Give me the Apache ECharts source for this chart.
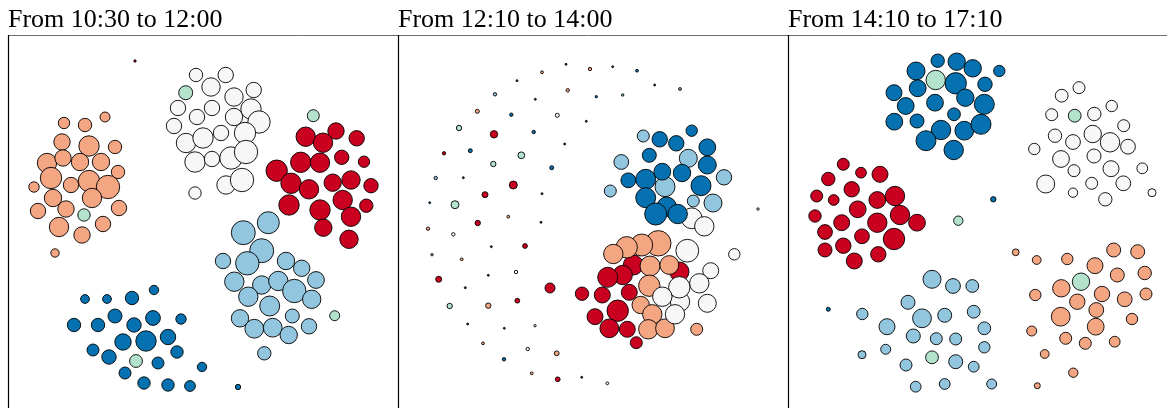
<!DOCTYPE html>
<html>
<head>
<meta charset="utf-8">
<script src="https://cdn.jsdelivr.net/npm/echarts@6/dist/echarts.min.js"></script>
<style>html,body{margin:0;padding:0;background:#fff;}#c{width:1167px;height:408px;}</style>
</head>
<body>
<div id="c"></div>
<script>
// Panel titles
const titles = ['From 10:30 to 12:00', 'From 12:10 to 14:00', 'From 14:10 to 17:10'];
// Each point: [x, y, radius] (panel pixel space)
const p1Red = [[135,61,1.5],[305.7,136.7,10],[336,131,8.5],[356.7,138.3,8],[323,142.7,10],[341.7,157.3,7.5],[364,161.7,6],[300.7,162.3,10.5],[320,162.7,10],[276.7,170.7,11],[291,183.3,10.5],[309,189.3,10],[332.7,182.7,9],[351,180,9.5],[371,185.7,7.5],[289,205,10.5],[320,210,10.5],[342.7,200,10],[366.3,205.7,7],[351,216.7,10],[323.3,227.7,9],[349,239.3,9.5]];
const p1Salmon = [[105,117,5.3],[64,123,6],[85,125,7],[62,142,8.5],[89,146,10.5],[115,147,7],[47,163,10],[63,158,8.5],[80,162,9],[101,162,9],[118,172,7],[51,178,11],[71,185,8],[89,181,11],[108,187,12],[34,187,5.5],[53,198,9],[92,198,10],[119,208,8],[38,211,8],[66,209,8.5],[59,227,10],[82,235,8.5],[103,224,8],[55,253,4.5]];
const p1White = [[196,75,7],[225.7,75,8],[211,87,9.5],[234,97,9.5],[253.7,90,8],[178,108,8],[197,117,8],[212,108,8],[234,117,9],[251,109,10.5],[259,122,11.5],[174,126,8],[186,143,10],[203,138,10.5],[221,133,8],[245,133,11],[195,162,10.5],[212,159,8],[231,158,11.5],[246,152,12],[226,185,9.5],[242,180,12],[195,193,6.5]];
const p1LightBlue = [[268.3,222.7,11.3],[243.3,232.7,12.3],[261.7,250.7,12.3],[223,261,8],[247.3,263.3,12],[286,261,9],[301.7,268.3,8.5],[234.3,281.7,10],[261.7,285,9.5],[278.3,281,10],[294.3,291,12],[316,280,8.7],[248.3,296.7,10],[311.7,299.3,9.5],[269.7,306,10.3],[240,318.3,9],[254.3,328.7,9.7],[272.7,327.7,9.7],[292.3,316,7.3],[288.7,335,9],[309,326.3,8],[264.3,353.3,7]];
const p1Blue = [[85,299,4.7],[107,299,4.7],[132,298,7],[154,290,5],[74,325,7],[98,325,7],[115,316,7.3],[134,325,7.5],[153,318,7.7],[181,319,5.5],[123,342,8.5],[146,341,10.5],[168,337,8],[93,350,6.3],[109,357,7.5],[158,363,6.3],[177,352,6.5],[125,373,6.3],[144,383,6.5],[168,385,6.5],[190,386,5.7],[202,367,5],[238,387,3]];
const p1Mint = [[185.7,92.7,7.3],[84,215,6.5],[313.3,115.7,6.3],[136,361,6.7],[334.7,315.7,5.3]];

const p2Red = [[494,134.3,4],[444,153.3,2],[513.3,185,4.3],[485,194.7,3.3],[477.7,223,3],[525,246,2.7],[438.7,279.3,3.3],[550,288,5.3],[582,293.7,7],[517.3,300.7,2.7],[557.7,379.3,2.7],[633.3,265,10.3],[622.7,275,10],[679.3,271.7,10],[607.7,277.3,10.3],[602.3,295,8.3],[629.3,292.3,8.3],[617.7,310.7,11],[595,316.7,8.3],[609.3,328.3,9.7],[627.3,329.3,8.3],[636.3,342.7,6.3]];
const p2Salmon = [[590,69,2],[542,72.3,1.7],[567.7,90.3,2],[477.3,111.3,2.3],[508.3,216.7,1.7],[428,228.7,2],[461.7,259.3,1.7],[488.3,305.7,3],[483,343.3,1.7],[556.7,353.3,2.7],[531.7,373.3,1.7],[658.3,243.3,13],[641.7,245,11.3],[626.7,247.3,11],[613.3,254,10],[650,266,10.3],[669.3,265,9.7],[649.3,285.7,11],[640.7,305,9],[652.3,314.3,10],[648.3,329.3,10],[665,328.3,9.7],[696.7,329.3,6.3]];
const p2White = [[557.3,115.3,2.3],[453.3,234.3,2],[516,272,2],[535,325.7,1.5],[527.7,349,2],[607.3,383.3,1.7],[758,209,1.5],[691.7,218.3,10.7],[704.3,226.3,10],[734.3,254.3,6],[687.3,250.7,11.7],[710.7,270.7,8.3],[699.3,283.3,10],[680,301.7,10],[679.3,287.3,11],[662.3,296.7,10],[707.3,303.3,9.3],[675,314.3,10]];
const p2LightBlue = [[495,94.3,2],[435.7,178,2],[432,254.7,1.5],[680,89,1.7],[622.7,95,1.5],[643.3,136,6.3],[688.3,158.3,9.3],[621.3,162,7.7],[724,177.3,8],[665,186.7,10.3],[610.3,191,6.3],[693.3,201,6.3],[713,203,9.3]];
const p2Blue = [[511.3,114.7,2],[533.7,132,2],[470.3,150.7,2.3],[551.7,167.7,2.3],[429.7,202.7,1.3],[504,359.3,2],[637,70.7,1.7],[596.3,96.7,1.5],[659.7,139.3,8],[676.3,143.3,8],[691.7,130.7,6],[707.3,147.3,8.7],[649.3,155.3,7.3],[707.3,165,9.3],[628.3,180.3,7.7],[645.7,179.3,10.3],[662.3,171.7,8.7],[682,173,9],[701,185.7,10.3],[645.7,197.7,10.3],[666.7,206.7,10],[655.7,214,11.3],[677.7,214,10]];
const p2Tiny = [[566,64.3,1.3],[517,80.7,1.3],[535.3,99.3,1.3],[586.3,121.3,1.3],[564.7,144,1.3],[463.3,177.7,1.3],[542,193.7,1.3],[541,222.3,1.3],[491.3,246.7,1.3],[488.3,275.3,1.3],[465.3,287.7,1.3],[467.7,324,1.3],[504.3,328.3,1.3],[581.7,377.3,1.3],[612.7,66.7,1.3],[654.7,85,1.3]];
const p2Mint = [[459,128,3],[521.3,155.3,3.7],[493.3,164,3],[455,204.7,4.3],[449.7,306,3]];

const p3Red = [[843.3,164.3,6.3],[828.3,179,7],[861,172.7,5.7],[880,174.3,8.3],[816.7,196,6.3],[833.7,200,5.7],[851.7,189.3,8],[877.3,200,8.7],[895,196,10],[857.7,209.3,8.7],[815,216,6.5],[900,215,10],[841.7,222.7,8.3],[877.3,222.7,10],[917,222.7,8.7],[825,232,7.7],[862,236.3,7.7],[894,239,11],[825,250,7.3],[843.3,245.7,8],[854.3,261,8.3],[878.3,254.3,8]];
const p3Salmon = [[1015.7,252.3,3.7],[1036.7,260,4.7],[1067.3,259,6],[1113.7,250,7.3],[1137.7,251.7,7.3],[1095,265.7,8.3],[1117.3,275,7.3],[1144.7,273,7],[1061.3,288.3,9],[1035.3,295,6],[1102,294,8],[1077.3,301.7,8],[1124.7,299.3,7.7],[1146,294,6.3],[1096.3,310,7.7],[1060.7,316.7,9.7],[1132,319,6],[1095.7,326.7,8.7],[1031.7,331,5.3],[1065.7,338.3,6.3],[1085.3,343.3,6.3],[1114.7,341.7,5.7],[1044.7,354,4.7],[1073.3,372.7,5],[1037.3,385.7,3.3]];
const p3White = [[1079,87.7,6.3],[1061.7,95.7,6.7],[1111.7,106,6],[1051.7,114.7,6.3],[1094.3,114,7],[1123.7,125.7,6.3],[1055,135.7,7],[1073,142,7.7],[1092.7,134,9],[1110,142.3,10],[1128,146.7,7.7],[1034.3,149,6],[1061,159,8.7],[1094,156,7.3],[1074,170.7,6.3],[1111,168.7,8.3],[1142.3,168.3,5.7],[1045.7,184,9.3],[1091.7,183.3,6.3],[1123.3,183.3,7.7],[1073,192.7,5],[1152,192.7,4.3],[1105.3,199.3,7]];
const p3LightBlue = [[932,279.3,9.3],[953,286,7.7],[972.3,286,6.7],[908,302.3,7.3],[862.3,314,6],[922,318.3,9.7],[944.7,315.3,7.3],[973.7,311.7,6.7],[887,326.7,8.3],[913.3,336,7.3],[936.3,338.7,6.3],[955.7,339,6.3],[984.3,328.3,6.7],[862,354.7,4.3],[885.7,349.3,5.3],[955.7,361.7,7.3],[973.7,366.7,5.7],[906,365,6.3],[984.3,347.3,6],[915.7,386.7,5.7],[944.7,384,5.7],[991.7,384,5.3]];
const p3Blue = [[937.7,60.7,7],[956.7,61.7,9],[916,71,9.3],[972.7,68.3,9],[955.7,83.3,11],[917.7,88.3,8.7],[894,92.7,8.3],[985,84.3,7.5],[965.3,97.7,9],[935,102.7,8.7],[905.7,106,8.7],[984.3,104.3,10.3],[954,114.3,6.7],[894.3,121.7,8.7],[917,121,7.3],[941,130,10],[964.3,130.7,9.7],[981,124.3,10.3],[926,140.7,10.3],[953.7,150,10],[999.3,71,6],[993.3,199.3,3],[828.3,309.3,2.3]];
const p3Mint = [[935.7,80,10],[1074.7,115.7,6.7],[958.3,220.7,5],[932,357.3,6.7],[1081,281.7,9]];

const COL = {red:'#ca0020', salmon:'#f4a582', white:'#f7f7f7', lightBlue:'#92c5de', blue:'#0571b0', mint:'#b3e2cd', tiny:'#444444'};
const panels = [
  {x0:8, w:390, groups:[[p1Red,'red'],[p1Salmon,'salmon'],[p1White,'white'],[p1LightBlue,'lightBlue'],[p1Blue,'blue'],[p1Mint,'mint']]},
  {x0:398, w:390, groups:[[p2Tiny,'tiny'],[p2Red,'red'],[p2Salmon,'salmon'],[p2White,'white'],[p2LightBlue,'lightBlue'],[p2Blue,'blue'],[p2Mint,'mint']]},
  {x0:788, w:379, groups:[[p3Red,'red'],[p3Salmon,'salmon'],[p3White,'white'],[p3LightBlue,'lightBlue'],[p3Blue,'blue'],[p3Mint,'mint']]}
];
const TOP = 35, BOTTOM = 408;

const grid = [], xAxis = [], yAxis = [], series = [], title = [];
panels.forEach((p, i) => {
  grid.push({left:p.x0, top:TOP, width:p.w, height:BOTTOM-TOP, show:false});
  xAxis.push({type:'value', gridIndex:i, min:p.x0, max:p.x0+p.w, show:false});
  yAxis.push({type:'value', gridIndex:i, min:TOP, max:BOTTOM, inverse:true, show:false});
  title.push({text:titles[i], left:p.x0, top:7, padding:0,
    textStyle:{fontFamily:'Liberation Serif', fontSize:26, fontWeight:'normal', color:'#000'}});
  p.groups.forEach(([data, c]) => {
    series.push({type:'scatter', xAxisIndex:i, yAxisIndex:i, data:data, silent:true,
      symbol:'circle', symbolSize: v => Math.max(2, v[2]*2 - 0.6),
      itemStyle:{color:COL[c], opacity:1, borderColor:'#000', borderWidth:0.9}});
  });
});

const chart = echarts.init(document.getElementById('c'), null, {renderer:'canvas'});
chart.setOption({
  animation:false,
  title, grid, xAxis, yAxis, series,
  graphic:[
    {type:'line', shape:{x1:8, y1:35.5, x2:1167, y2:35.5}, style:{stroke:'#6e6e6e', lineWidth:1}},
    {type:'line', shape:{x1:8.5, y1:35, x2:8.5, y2:408}, style:{stroke:'#000', lineWidth:1.2}},
    {type:'line', shape:{x1:398.5, y1:35, x2:398.5, y2:408}, style:{stroke:'#000', lineWidth:1.2}},
    {type:'line', shape:{x1:788.5, y1:35, x2:788.5, y2:408}, style:{stroke:'#000', lineWidth:1.2}}
  ]
});
</script>
</body>
</html>
